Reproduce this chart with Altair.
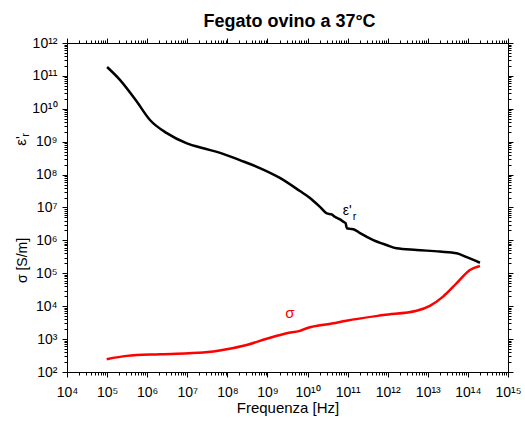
import altair as alt
import pandas as pd

# ---- data (log10 of frequency in Hz and of value) ----
eps_logf = [5.0, 5.32, 5.74, 6.07, 6.49, 6.99, 7.40, 7.82, 8.31, 8.81, 9.31, 9.81,
            10.06, 10.31, 10.48, 10.60, 10.68, 10.81, 10.89, 10.95, 10.98, 11.06, 11.14,
            11.31, 11.64, 11.97, 12.22, 12.72, 13.30, 13.72, 13.97, 14.30]
eps_logv = [11.27, 10.88, 10.22, 9.66, 9.26, 8.95, 8.80, 8.66, 8.44, 8.20, 7.90, 7.50,
            7.29, 7.02, 6.82, 6.79, 6.72, 6.64, 6.57, 6.52, 6.37, 6.35, 6.34,
            6.22, 6.01, 5.86, 5.76, 5.71, 5.66, 5.61, 5.49, 5.32]
sig_logf = [4.99, 5.49, 6.32, 7.40, 7.98, 8.48, 8.98, 9.48, 9.81, 9.98, 10.64, 10.97,
            11.89, 12.72, 13.05, 13.38, 13.72, 14.05, 14.30]
sig_logv = [2.39, 2.49, 2.54, 2.59, 2.69, 2.82, 3.01, 3.18, 3.25, 3.33, 3.48, 3.56,
            3.73, 3.86, 4.01, 4.29, 4.70, 5.10, 5.22]

x_major = [10.0 ** k for k in range(4, 16)]
x_minor = [m * 10.0 ** k for k in range(4, 15) for m in range(2, 10)]
y_major = [10.0 ** k for k in range(2, 13)]
y_minor = [m * 10.0 ** k for k in range(2, 12) for m in range(2, 10)]

TITLE = "Fegato ovino a 37°C"
FONT = "Liberation Sans"
W, H = 441, 329

df = pd.DataFrame({
    "f": [10 ** a for a in eps_logf] + [10 ** a for a in sig_logf],
    "v": [10 ** a for a in eps_logv] + [10 ** a for a in sig_logv],
    "series": ["eps"] * len(eps_logf) + ["sigma"] * len(sig_logf),
    "order": list(range(len(eps_logf))) + list(range(len(sig_logf))),
})

xs = alt.Scale(type="log", domain=[1e4, 1e15], nice=False)
ys = alt.Scale(type="log", domain=[1e2, 1e12], nice=False)

is_major = "abs(log(datum.value)/LN10 - round(log(datum.value)/LN10)) < 0.001"
sup = "['⁰','¹','²','³','⁴','⁵','⁶','⁷','⁸','⁹']"
E = "round(log(datum.value)/LN10)"
lab = f"({is_major}) ? ('10' + ({E} >= 10 ? {sup}[floor({E}/10)] : '') + {sup}[{E} % 10]) : ''"
tick_size = {"condition": {"test": is_major, "value": 5}, "value": 3}

common = dict(tickSize=tick_size, tickColor="black", domainColor="black", grid=False,
              labelFont=FONT, labelFontSize=14, labelColor="black", labelOverlap=False,
              labelFlush=False, tickWidth=1, domainWidth=1)

x_bottom = alt.Axis(values=x_major + x_minor, labelExpr=lab, orient="bottom",
                    labelPadding=8, title="Frequenza [Hz]", titleFont=FONT,
                    titleFontSize=15, titleFontWeight="normal", titleColor="black",
                    titleY=40, titleBaseline="alphabetic", **common)
y_left = alt.Axis(values=y_major + y_minor, labelExpr=lab, orient="left",
                  labelPadding=5, title="σ [S/m]", titleFont=FONT, titleFontSize=14,
                  titleFontWeight="normal", titleColor="black", titleX=-45, titleY=217,
                  titleBaseline="middle", titleAlign="center", titleAngle=270, **common)
x_top = alt.Axis(values=x_major + x_minor, labels=False, orient="top", title=None, **common)
y_right = alt.Axis(values=y_major + y_minor, labels=False, orient="right", title=None, **common)

color = alt.Color("series:N", scale=alt.Scale(domain=["eps", "sigma"], range=["black", "#ff0000"]),
                  legend=None)

lines = alt.Chart(df).mark_line(strokeWidth=2.5, interpolate="monotone").encode(
    x=alt.X("f:Q", scale=xs, axis=x_bottom),
    y=alt.Y("v:Q", scale=ys, axis=y_left),
    color=color,
    order="order:Q",
)
frame = alt.Chart(df).mark_line(opacity=0).encode(
    x=alt.X("f:Q", scale=xs, axis=x_top),
    y=alt.Y("v:Q", scale=ys, axis=y_right),
    detail="series:N",
)

# in-plot labels (positioned in data coordinates)
eps_lab = pd.DataFrame({"f": [10 ** 10.88], "v": [10 ** 6.77], "t": ["ε'"]})
eps_sub = pd.DataFrame({"f": [10 ** 11.13], "v": [10 ** 6.62], "t": ["r"]})
sig_lab = pd.DataFrame({"f": [10 ** 9.56], "v": [10 ** 3.64], "t": ["σ"]})

t1 = alt.Chart(eps_lab).mark_text(font=FONT, fontSize=14, align="left", baseline="alphabetic",
                                  color="black").encode(
    x=alt.X("f:Q", scale=xs, axis=None), y=alt.Y("v:Q", scale=ys, axis=None), text="t:N")
t2 = alt.Chart(eps_sub).mark_text(font=FONT, fontSize=11, align="left", baseline="alphabetic",
                                  color="black").encode(
    x=alt.X("f:Q", scale=xs, axis=None), y=alt.Y("v:Q", scale=ys, axis=None), text="t:N")
t3 = alt.Chart(sig_lab).mark_text(font=FONT, fontSize=15, align="center", baseline="alphabetic",
                                  color="#ff0000").encode(
    x=alt.X("f:Q", scale=xs, axis=None), y=alt.Y("v:Q", scale=ys, axis=None), text="t:N")

# rotated y-axis label ε'_r
ylab1 = alt.Chart(pd.DataFrame({"t": ["ε'"]})).mark_text(
    font=FONT, fontSize=15, angle=270, align="center", baseline="middle", color="black"
).encode(text="t:N", x=alt.value(-46), y=alt.value(98))
ylab2 = alt.Chart(pd.DataFrame({"t": ["r"]})).mark_text(
    font=FONT, fontSize=11, angle=270, align="center", baseline="middle", color="black"
).encode(text="t:N", x=alt.value(-41), y=alt.value(92))

# chart title as a text mark above the plot
title = alt.Chart(pd.DataFrame({"t": [TITLE]})).mark_text(
    font=FONT, fontSize=18, fontWeight="bold", align="center", baseline="alphabetic",
    color="black"
).encode(text="t:N", x=alt.value(W / 2 + 2), y=alt.value(-16))

chart = alt.layer(lines, frame, t1, t2, t3, ylab1, ylab2, title).resolve_axis(
    x="independent", y="independent"
).properties(
    width=W, height=H,
    autosize=alt.AutoSizeParams(type="none"),
    padding={"left": 67, "top": 43, "right": 17, "bottom": 50},
).configure_view(stroke="black", strokeWidth=1).configure(background="white")

chart.save("out.html", embed_options={"renderer": "svg", "actions": False})
